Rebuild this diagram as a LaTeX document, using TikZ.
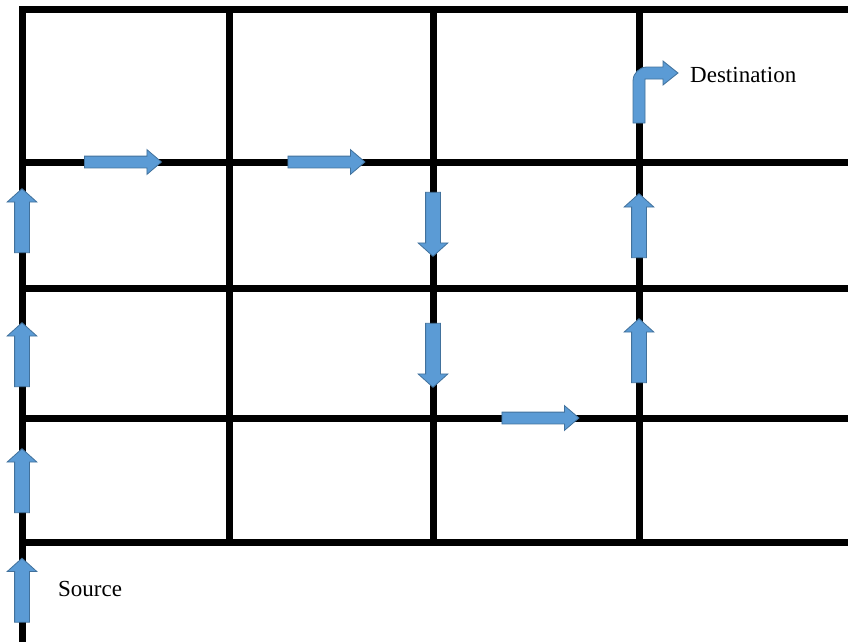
\documentclass[tikz,border=0pt]{standalone}
\usepackage{fontspec}
\setmainfont{Liberation Serif}
\usetikzlibrary{shapes.arrows}
\definecolor{routeblue}{RGB}{91,155,213}
\definecolor{routeedge}{RGB}{65,113,156}

\begin{document}
\begin{tikzpicture}[
		x=1pt, y=-1pt,
		% Grid lines
		wire/.style={line width=7pt, line cap=rect, black},
		% Block arrows along the route
		blk/.style={single arrow, fill=routeblue, draw=routeedge, line width=0.8pt,
			minimum width=0pt, inner xsep=0pt, single arrow head indent=0pt, anchor=center},
		hblk/.style={blk, inner ysep=5.5pt, single arrow head extend=6.5pt,
			single arrow tip angle=81, minimum height=77pt},
		vblk/.style={blk, inner ysep=7pt, single arrow head extend=7.5pt,
			single arrow tip angle=96, minimum height=64pt},
		lbl/.style={font=\fontsize{23}{27}\selectfont, inner sep=0pt, anchor=west}
		]
		\useasboundingbox (0,0) rectangle (848,642);
		
		% ==============================================================================
		% 1. GRID
		% ==============================================================================
		\foreach \gy in {10,162,288,418,542}
			\draw[wire] (22,\gy) -- (848,\gy);
		\draw[wire] (22,10) -- (22,642);
		\foreach \gx in {229,433,639}
			\draw[wire] (\gx,10) -- (\gx,542);
		
		% ==============================================================================
		% 2. ROUTE
		% ==============================================================================
		% up the left column
		\node[vblk, rotate=90] (start) at (22,593.5) {};
		\node[vblk, rotate=90] (up1) at (22,484) {};
		\node[vblk, rotate=90] (up2) at (22,358) {};
		\node[vblk, rotate=90] (up3) at (22,224) {};
		% along the second row line
		\node[hblk] (go1) at (119.5,162) {};
		\node[hblk] (go2) at (323,162) {};
		% down the middle
		\node[vblk, rotate=-90] (down1) at (433,221) {};
		\node[vblk, rotate=-90] (down2) at (433,352) {};
		\node[hblk] (go3) at (537,418) {};
		% up the right
		\node[vblk, rotate=90] (up4) at (639,354) {};
		\node[vblk, rotate=90] (up5) at (639,229) {};
		% bent arrow into the destination
		\filldraw[fill=routeblue, draw=routeedge, line width=0.8pt]
			(633,123) -- (633,81) to[out=90, in=180] (647,67) -- (663,67) -- (663,61)
			-- (678,73) -- (663,85) -- (663,79) -- (645,79) -- (645,123) -- cycle;
		
		% ==============================================================================
		% 3. LABELS
		% ==============================================================================
		\node[lbl] (src) at (58,589) {Source};
		\node[lbl] (dst) at (690,75) {Destination};
	\end{tikzpicture}
\end{document}
